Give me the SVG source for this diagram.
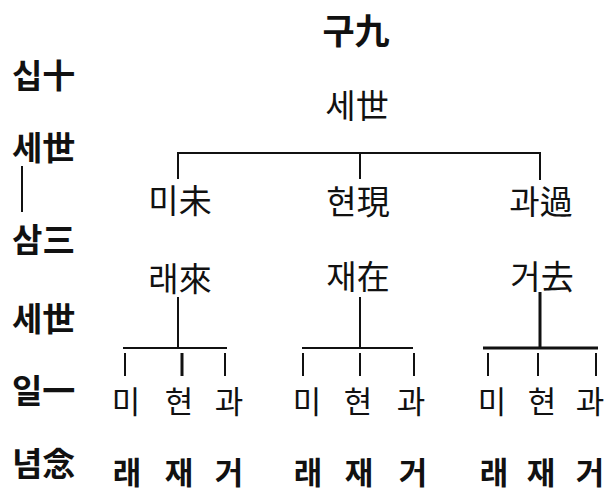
<svg xmlns="http://www.w3.org/2000/svg" width="614" height="496" viewBox="0 0 614 496">
<style>
text{font-family:"Noto Sans CJK KR","Noto Sans CJK SC",sans-serif;fill:#111;}
.t{font-size:35px;text-anchor:middle;font-weight:700;}
.m{font-size:33px;text-anchor:middle;}
.l{font-size:33px;font-weight:700;}
.s{font-size:31px;text-anchor:middle;}
.b{font-weight:700;}
.ln{stroke:#111;stroke-width:2;fill:none;}
.tk{stroke:#111;stroke-width:3;fill:none;}
</style>
<rect width="614" height="496" fill="#fff"/>
<g id="left-label">
<text class="l" x="12" y="88">십十</text>
<text class="l" x="12" y="160">세世</text>
<path class="ln" d="M22 166V212"/>
<text class="l" x="12" y="252">삼三</text>
<text class="l" x="12" y="331">세世</text>
<text class="l" x="12" y="403">일一</text>
<text class="l" x="12" y="476">념念</text>
</g>
<g id="title"><text class="t" x="356" y="44">구九</text></g>
<g id="root"><text class="m" x="357" y="118">세世</text></g>
<g id="future"><text class="m" x="180" y="213">미未</text><text class="m" x="180" y="291">래來</text></g>
<g id="present"><text class="m" x="358" y="214">현現</text><text class="m" x="358" y="289">재在</text></g>
<g id="past"><text class="m" x="541" y="214">과過</text><text class="m" x="542" y="289">거去</text></g>
<g id="future-sub">
<text class="s" x="126" y="413">미</text><text class="s" x="179" y="413">현</text><text class="s" x="229" y="413">과</text>
<text class="s b" x="127" y="484">래</text><text class="s b" x="179" y="484">재</text><text class="s b" x="229" y="484">거</text>
</g>
<g id="present-sub">
<text class="s" x="307" y="413">미</text><text class="s" x="358" y="413">현</text><text class="s" x="411" y="413">과</text>
<text class="s b" x="308" y="484">래</text><text class="s b" x="359" y="484">재</text><text class="s b" x="413" y="484">거</text>
</g>
<g id="past-sub">
<text class="s" x="492" y="413">미</text><text class="s" x="542" y="413">현</text><text class="s" x="590" y="413">과</text>
<text class="s b" x="494" y="484">래</text><text class="s b" x="541" y="484">재</text><text class="s b" x="590" y="484">거</text>
</g>
<g id="connectors">
<path class="ln" d="M177 153H541M178 153V179M360 153V179M540 153V180"/>
<path class="ln" d="M178 297V348M360 297V348"/>
<path class="tk" d="M540 292V348"/>
<path class="ln" d="M123 348H227M302 348H413"/>
<path class="tk" d="M483 348H598"/>
<path class="ln" d="M125 353V376M225 353V376M303 353V376M360 353V376M414 353V376M488 353V376M538 353V376M596 353V376"/>
<path class="tk" d="M182 353V376"/>
</g>
</svg>
